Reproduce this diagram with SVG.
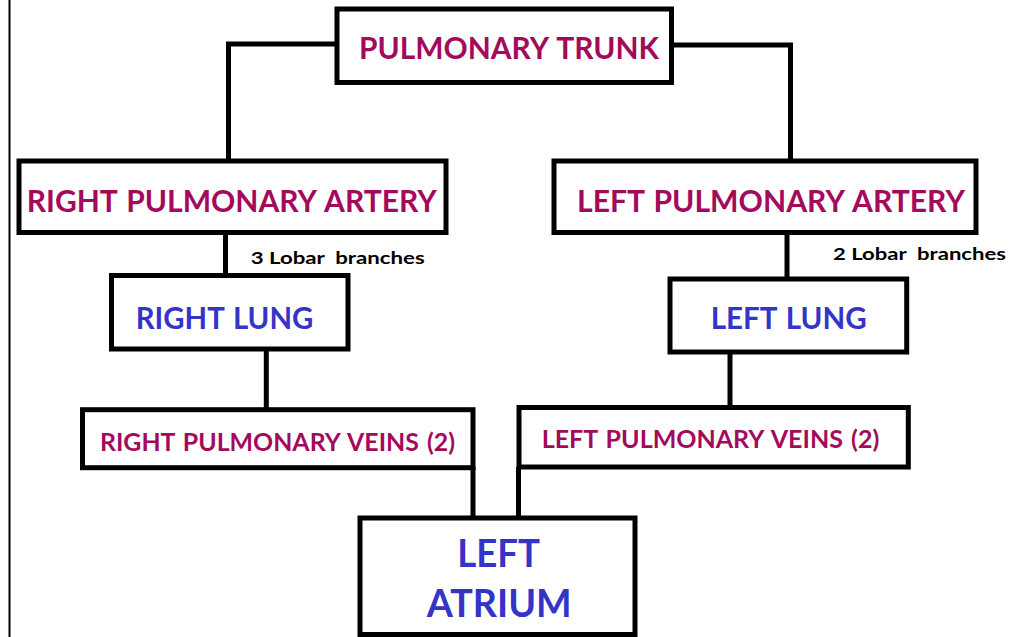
<svg xmlns="http://www.w3.org/2000/svg" width="1013" height="637" viewBox="0 0 1013 637">
<style>
.box{fill:#fff;stroke:#000;stroke-width:5}
.ln{fill:none;stroke:#000;stroke-width:5}
.t{font-family:Lato,"Open Sans","Liberation Sans",sans-serif;font-weight:bold;word-spacing:2px}
.m{fill:#a30a5c}
.b{fill:#3434c8}
.s{fill:#000;font-size:17px;white-space:pre;word-spacing:0}
</style>
<rect width="1013" height="637" fill="#fff"/>
<line x1="9.5" y1="0" x2="9.5" y2="637" stroke="#000" stroke-width="2"/>
<g id="connectors">
<polyline class="ln" points="337,44 228.5,44 228.5,161"/>
<polyline class="ln" points="671,45 790.5,45 790.5,161"/>
<line class="ln" x1="225.5" y1="232" x2="225.5" y2="276"/>
<line class="ln" x1="787" y1="232" x2="787" y2="279"/>
<line class="ln" x1="266.3" y1="349" x2="266.3" y2="410"/>
<line class="ln" x1="730" y1="352" x2="730" y2="408"/>
<line class="ln" x1="473" y1="467" x2="473" y2="518"/>
<line class="ln" x1="518.5" y1="467" x2="518.5" y2="518"/>
</g>
<g id="pulmonary-trunk">
<rect class="box" x="337" y="9" width="334.5" height="73.5"/>
<text class="t m" x="359" y="59.3" font-size="31" textLength="300" lengthAdjust="spacingAndGlyphs">PULMONARY TRUNK</text>
</g>
<g id="right-pulmonary-artery">
<rect class="box" x="19" y="161" width="427" height="71.5"/>
<text class="t m" x="26.7" y="212" font-size="31" textLength="410" lengthAdjust="spacingAndGlyphs">RIGHT PULMONARY ARTERY</text>
</g>
<g id="left-pulmonary-artery">
<rect class="box" x="554" y="161" width="422" height="71.5"/>
<text class="t m" x="577" y="212" font-size="31" textLength="388" lengthAdjust="spacingAndGlyphs">LEFT PULMONARY ARTERY</text>
</g>
<text class="t s" x="250.7" y="264" textLength="174" lengthAdjust="spacingAndGlyphs" xml:space="preserve">3 Lobar  branches</text>
<text class="t s" x="833" y="260" textLength="173" lengthAdjust="spacingAndGlyphs" xml:space="preserve">2 Lobar  branches</text>
<g id="right-lung">
<rect class="box" x="111.5" y="275.5" width="236.5" height="73.5"/>
<text class="t b" x="135.7" y="329.3" font-size="29.5" textLength="177.6" lengthAdjust="spacingAndGlyphs">RIGHT LUNG</text>
</g>
<g id="left-lung">
<rect class="box" x="670" y="279" width="236.7" height="73"/>
<text class="t b" x="710.7" y="329.3" font-size="29.5" textLength="156" lengthAdjust="spacingAndGlyphs">LEFT LUNG</text>
</g>
<g id="right-pulmonary-veins">
<rect class="box" x="82.5" y="409.7" width="390.5" height="58"/>
<text class="t m" x="100" y="450.7" font-size="24" textLength="355" lengthAdjust="spacingAndGlyphs">RIGHT PULMONARY VEINS (2)</text>
</g>
<g id="left-pulmonary-veins">
<rect class="box" x="519" y="407.5" width="389.3" height="59.5"/>
<text class="t m" x="541.7" y="448.3" font-size="24" textLength="337.6" lengthAdjust="spacingAndGlyphs">LEFT PULMONARY VEINS (2)</text>
</g>
<g id="left-atrium">
<rect class="box" x="360" y="518" width="275" height="116.5"/>
<text class="t b" x="457.3" y="567.3" font-size="38.5" textLength="82.7" lengthAdjust="spacingAndGlyphs">LEFT</text>
<text class="t b" x="426.7" y="616.7" font-size="38.5" textLength="145" lengthAdjust="spacingAndGlyphs">ATRIUM</text>
</g>
</svg>
